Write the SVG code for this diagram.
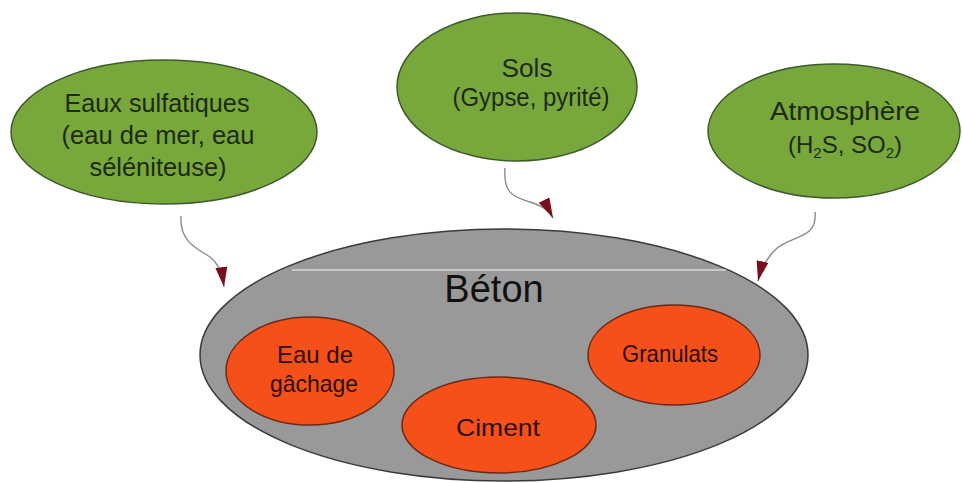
<svg xmlns="http://www.w3.org/2000/svg" width="962" height="483" viewBox="0 0 962 483">
<defs>
<style>
.green{fill:#78a83c;stroke:#3f5a2a;stroke-width:1.5}
.gray{fill:#999999;stroke:#3a3a3a;stroke-width:1.5}
.orange{fill:#f5501a;stroke:#6a2a14;stroke-width:1.5}
text{font-family:"Liberation Sans",Arial,sans-serif;text-anchor:middle;fill:#1e2a14}
.t{font-size:25px}
.o{font-size:24px;fill:#2a1008}
.b{font-size:38px;fill:#111}
.conn{fill:none;stroke:#8a8a8a;stroke-width:1.4}
</style>
<marker id="ah" markerUnits="userSpaceOnUse" markerWidth="24" markerHeight="16" refX="20" refY="6" orient="auto">
<path d="M0,0 L20,6 L0,12 Z" fill="#7a0f1c"/>
</marker>
</defs>
<rect width="962" height="483" fill="#ffffff"/>
<g id="beton">
<ellipse class="gray" cx="504" cy="355" rx="304" ry="126"/>
<line x1="292" y1="270" x2="726" y2="270" stroke="#d8d8d8" stroke-width="1.5"/>
<text class="b" x="494" y="302">Béton</text>
</g>
<g id="eau-gachage">
<ellipse class="orange" cx="310" cy="371" rx="84" ry="54"/>
<text class="o" x="315" y="363" textLength="76" lengthAdjust="spacingAndGlyphs">Eau de</text>
<text class="o" x="314" y="392" textLength="88" lengthAdjust="spacingAndGlyphs">gâchage</text>
</g>
<g id="ciment">
<ellipse class="orange" cx="499" cy="425" rx="97" ry="48"/>
<text class="o" x="498" y="436" textLength="84" lengthAdjust="spacingAndGlyphs">Ciment</text>
</g>
<g id="granulats">
<ellipse class="orange" cx="674" cy="355" rx="86" ry="50"/>
<text class="o" x="670" y="362" textLength="96" lengthAdjust="spacingAndGlyphs">Granulats</text>
</g>
<g id="eaux-sulfatiques">
<ellipse class="green" cx="164" cy="132" rx="153" ry="72"/>
<text class="t" x="157" y="112" textLength="185" lengthAdjust="spacingAndGlyphs">Eaux sulfatiques</text>
<text class="t" x="158" y="144" textLength="193" lengthAdjust="spacingAndGlyphs">(eau de mer, eau</text>
<text class="t" x="158" y="176" textLength="137" lengthAdjust="spacingAndGlyphs">séléniteuse)</text>
</g>
<g id="sols">
<ellipse class="green" cx="517" cy="87" rx="120" ry="74"/>
<text class="t" x="527" y="77" textLength="51" lengthAdjust="spacingAndGlyphs">Sols</text>
<text class="t" x="531" y="106" textLength="157" lengthAdjust="spacingAndGlyphs">(Gypse, pyrité)</text>
</g>
<g id="atmosphere">
<ellipse class="green" cx="834" cy="131" rx="126" ry="67"/>
<text class="t" x="845" y="120" textLength="150" lengthAdjust="spacingAndGlyphs">Atmosphère</text>
<text class="t" x="845" y="153" style="font-size:24px">(H<tspan font-size="15" dy="5">2</tspan><tspan dy="-5">S, SO</tspan><tspan font-size="15" dy="5">2</tspan><tspan dy="-5">)</tspan></text>
</g>
<g id="connectors">
<path class="conn" marker-end="url(#ah)" d="M181,216 C179,243 200,250 210,257 C218,263 222,272 224,287"/>
<path class="conn" marker-end="url(#ah)" d="M505,168 C503,195 515,197 530,202 C542,206 549,210 553,218"/>
<path class="conn" marker-end="url(#ah)" d="M815,212 C818,240 790,235 775,250 C766,259 761,268 758,281"/>
</g>
</svg>
